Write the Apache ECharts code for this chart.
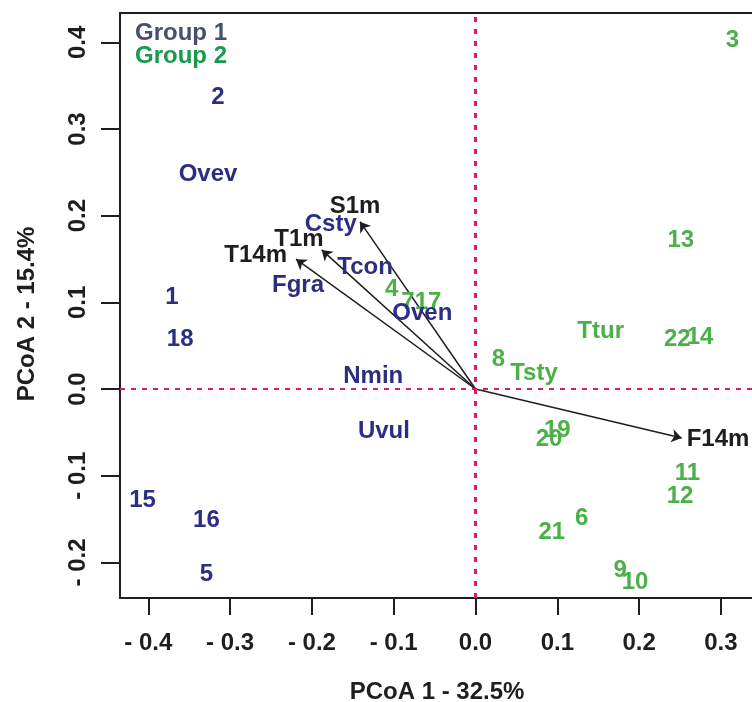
<!DOCTYPE html>
<html>
<head>
<meta charset="utf-8">
<script src="https://cdn.jsdelivr.net/npm/echarts@6/dist/echarts.min.js"></script>
<style>
html, body { margin: 0; padding: 0; background: #fff; }
#main { width: 752px; height: 702px; }
</style>
</head>
<body>
<div id="main"></div>
<script>
// PCoA biplot, group 1 (blue) vs group 2 (green)

// group 1 samples
var g1Names = ['1', '2', '5', '15', '16', '18'];
var g1X = [-0.371, -0.315, -0.329, -0.407, -0.329, -0.361];
var g1Y = [0.106, 0.336, -0.214, -0.128, -0.151, 0.057];

// group 1 indicator species
var g1VarNames = ['Ovev', 'Csty', 'Tcon', 'Fgra', 'Oven', 'Nmin', 'Uvul'];
var g1VarX = [-0.327, -0.177, -0.135, -0.217, -0.065, -0.125, -0.112];
var g1VarY = [0.248, 0.190, 0.1405, 0.119, 0.0867, 0.0144, -0.049];

// group 2 samples
var g2Names = ['3', '4', '6', '7', '8', '9', '10', '11', '12', '13', '14', '17', '19', '20', '21', '22'];
var g2X = [0.314, -0.1024, 0.1298, -0.0825, 0.0279, 0.1767, 0.195, 0.259, 0.25, 0.2509, 0.2745, -0.058, 0.1, 0.0899, 0.0932, 0.2467];
var g2Y = [0.402, 0.1144, -0.1489, 0.0994, 0.0345, -0.2096, -0.2231, -0.097, -0.124, 0.1712, 0.0598, 0.0997, -0.0478, -0.0578, -0.1655, 0.0567];

// group 2 indicator species
var g2VarNames = ['Ttur', 'Tsty'];
var g2VarX = [0.153, 0.0715];
var g2VarY = [0.0663, 0.0175];

// environmental vectors: arrow tips and label spots
var envNames = ['S1m', 'T1m', 'T14m', 'F14m'];
var envTipX = [-0.1412, -0.188, -0.2194, 0.2521];
var envTipY = [0.1931, 0.1605, 0.1498, -0.0566];
var envLabX = [-0.1473, -0.2158, -0.2687, 0.2965];
var envLabY = [0.2104, 0.1732, 0.1547, -0.0586];

// axis ticks
var xTicks = [-0.4, -0.3, -0.2, -0.1, 0.0, 0.1, 0.2, 0.3];
var yTicks = [-0.2, -0.1, 0.0, 0.1, 0.2, 0.3, 0.4];

var FONT = '"Liberation Sans", Arial, sans-serif';
var BLUE = '#2b2e83';
var GREEN = '#4cb048';
var INK = '#1e1e1e';

function pts(names, xs, ys) {
    var out = [];
    for (var i = 0; i < names.length; i++) {
        out.push({ name: names[i], value: [xs[i], ys[i]] });
    }
    return out;
}

function tickFmt(v) {
    if (Math.abs(v) < 1e-9) return '0.0';
    return v < 0 ? '- ' + Math.abs(v).toFixed(1) : v.toFixed(1);
}

function textSeries(name, data, color) {
    return {
        name: name,
        type: 'scatter',
        data: data,
        symbolSize: 1,
        itemStyle: { color: 'rgba(0,0,0,0)', opacity: 1 },
        silent: true,
        z: 5,
        label: {
            show: true,
            position: 'inside',
            formatter: '{b}',
            color: color,
            opacity: 1,
            fontFamily: FONT,
            fontWeight: 'bold',
            fontSize: 24
        }
    };
}

var arrows = [];
for (var i = 0; i < envNames.length; i++) {
    arrows.push({ coords: [[0, 0], [envTipX[i], envTipY[i]]] });
}

var frameLine = { show: true, onZero: false, lineStyle: { color: INK, width: 2 } };

var dom = document.getElementById('main');
var myChart = echarts.init(dom, null, { renderer: 'canvas' });

var option = {
    animation: false,
    backgroundColor: '#fff',
    grid: {
        left: 120,
        top: 13,
        right: 0,
        bottom: 104
    },
    xAxis: [{
        type: 'value',
        position: 'bottom',
        min: -0.4346,
        max: 0.338,
        splitLine: { show: false },
        axisLine: frameLine,
        axisTick: {
            show: true,
            length: 17,
            customValues: xTicks,
            lineStyle: { color: INK, width: 2 }
        },
        axisLabel: {
            customValues: xTicks,
            formatter: tickFmt,
            margin: 33,
            color: INK,
            fontFamily: FONT,
            fontWeight: 'bold',
            fontSize: 24
        }
    }, {
        // top edge of the box only
        type: 'value',
        position: 'top',
        min: -0.4346,
        max: 0.338,
        splitLine: { show: false },
        axisLine: frameLine,
        axisTick: { show: false },
        axisLabel: { show: false }
    }],
    yAxis: {
        type: 'value',
        min: -0.2411,
        max: 0.4338,
        splitLine: { show: false },
        axisLine: frameLine,
        axisTick: {
            show: true,
            length: 19,
            customValues: yTicks,
            lineStyle: { color: INK, width: 2 }
        },
        axisLabel: {
            customValues: yTicks,
            formatter: tickFmt,
            rotate: 90,
            margin: 30,
            color: INK,
            fontFamily: FONT,
            fontWeight: 'bold',
            fontSize: 24
        }
    },
    graphic: [
        {
            type: 'text', x: 135, y: 33,
            style: { text: 'Group 1', fill: '#46506a', align: 'left', verticalAlign: 'middle',
                     font: 'bold 24px ' + FONT }
        },
        {
            type: 'text', x: 135, y: 56,
            style: { text: 'Group 2', fill: '#17994f', align: 'left', verticalAlign: 'middle',
                     font: 'bold 24px ' + FONT }
        },
        {
            type: 'text', x: 437, y: 692,
            style: { text: 'PCoA 1 - 32.5%', fill: INK, align: 'center', verticalAlign: 'middle',
                     font: 'bold 24px ' + FONT }
        },
        {
            type: 'text', x: 27, y: 314, rotation: Math.PI / 2,
            style: { text: 'PCoA 2 - 15.4%', fill: INK, align: 'center', verticalAlign: 'middle',
                     font: 'bold 24px ' + FONT }
        }
    ],
    series: [
        {
            name: 'vectors',
            type: 'lines',
            coordinateSystem: 'cartesian2d',
            data: arrows,
            symbol: ['none', 'arrow'],
            symbolSize: 10,
            silent: true,
            z: 3,
            lineStyle: { color: INK, width: 1.5, opacity: 1 },
            markLine: {
                silent: true,
                symbol: 'none',
                label: { show: false },
                data: [
                    { xAxis: 0, lineStyle: { color: '#d81e5b', width: 3, type: [5, 7] } },
                    { yAxis: 0, lineStyle: { color: '#d81e5b', width: 2, type: [5, 6] } }
                ]
            }
        },
        textSeries('group2', pts(g2Names, g2X, g2Y), GREEN),
        textSeries('group2 species', pts(g2VarNames, g2VarX, g2VarY), GREEN),
        textSeries('group1', pts(g1Names, g1X, g1Y), BLUE),
        textSeries('group1 species', pts(g1VarNames, g1VarX, g1VarY), BLUE),
        textSeries('env', pts(envNames, envLabX, envLabY), INK)
    ]
};

myChart.setOption(option);
</script>
</body>
</html>
